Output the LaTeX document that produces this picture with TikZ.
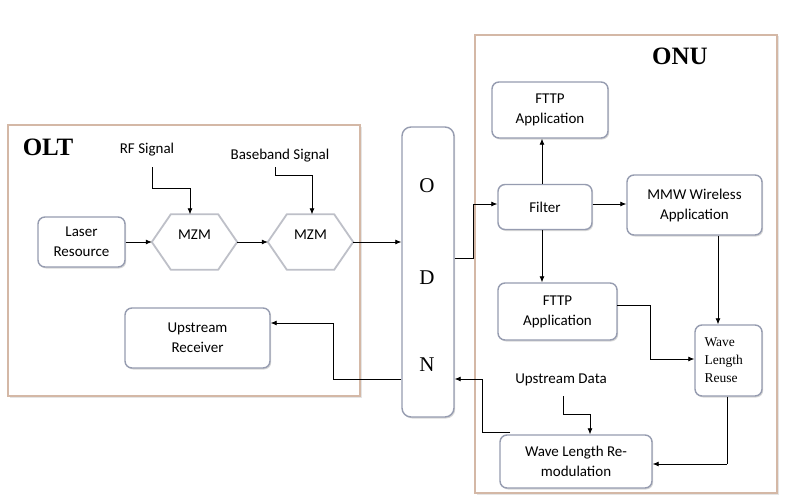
\documentclass[tikz,border=0pt]{standalone}
\usepackage{fontspec}
\setmainfont{Carlito}
\newfontfamily\serifface{Liberation Serif}
\usetikzlibrary{shadows,arrows.meta,calc}
\definecolor{boxline}{RGB}{150,156,176}
\definecolor{frameline}{RGB}{212,184,166}
\definecolor{hexline}{RGB}{190,192,200}
\tikzset{
  box/.style={draw=boxline, line width=1.4pt, rounded corners=7pt, fill=white,
    drop shadow={shadow xshift=1.2pt, shadow yshift=-1.5pt, opacity=0.3},
    align=center, font=\fontsize{15}{20}\selectfont, inner sep=2pt},
  frame/.style={draw=frameline, line width=2.4pt,
    drop shadow={shadow xshift=1.5pt, shadow yshift=-1.5pt, opacity=0.2}, fill=white},
  hexbox/.style={draw=none, minimum width=85pt, minimum height=55pt},
  hexdraw/.style={draw=hexline, line width=1.8pt, fill=white},
  lbl/.style={font=\fontsize{15}{20}\selectfont, inner sep=1pt},
  big/.style={font=\serifface\bfseries\fontsize{25}{28}\selectfont},
  odnl/.style={font=\serifface\fontsize{21}{24}\selectfont},
  arr/.style={-{Latex[length=6pt,width=5pt]}, line width=0.8pt},
  ln/.style={line width=0.8pt}
}
\begin{document}
\begin{tikzpicture}[x=1pt,y=-1pt]
\useasboundingbox[fill=white] (0,0) rectangle (791,500);
% containers
\draw[frame] (8,125) rectangle (360,396);
\draw[frame] (475,35) rectangle (777,493);
\node[big] (olt) at (48,147) {OLT};
\node[big] (onu) at (680,56) {ONU};
% OLT nodes
\node[box, minimum width=87pt, minimum height=50pt] (laser) at (81.5,242) {Laser\\Resource};
\node[hexbox] (mzm1) at (194.5,242) {};
\draw[hexdraw] (mzm1.west) -- ([xshift=19pt]mzm1.north west) -- ([xshift=-19pt]mzm1.north east) -- (mzm1.east) -- ([xshift=-19pt]mzm1.south east) -- ([xshift=19pt]mzm1.south west) -- cycle;
\node[lbl] at (194.5,235) {MZM};
\node[hexbox] (mzm2) at (310.5,242) {};
\draw[hexdraw] (mzm2.west) -- ([xshift=19pt]mzm2.north west) -- ([xshift=-19pt]mzm2.north east) -- (mzm2.east) -- ([xshift=-19pt]mzm2.south east) -- ([xshift=19pt]mzm2.south west) -- cycle;
\node[lbl] at (310.5,235) {MZM};
\node[lbl] (rf) at (147,150) {RF Signal};
\node[lbl] (bb) at (280,156) {Baseband Signal};
\node[box, minimum width=145pt, minimum height=60pt] (recv) at (197.5,338) {Upstream\\Receiver};
% ODN
\node[box, minimum width=52pt, minimum height=290pt, rounded corners=9pt] (odn) at (428,272) {};
\node[odnl] (o) at (427,186) {O};
\node[odnl] (d) at (427,278) {D};
\node[odnl] (n) at (427,365) {N};
% ONU nodes
\node[box, minimum width=116pt, minimum height=56pt] (fttp1) at (550,110) {FTTP\\Application};
\node[box, minimum width=94pt, minimum height=45pt] (filter) at (545,207) {Filter};
\node[box, minimum width=135pt, minimum height=60pt] (mmw) at (694.5,205) {MMW Wireless\\Application};
\node[box, minimum width=119pt, minimum height=57pt] (fttp2) at (557.5,311.5) {FTTP\\Application};
\node[box, minimum width=67pt, minimum height=71pt, align=left, text width=48pt, font=\serifface\fontsize{13.5}{18}\selectfont] (reuse) at (728.5,360.5) {Wave\\Length\\Reuse};
\node[box, minimum width=152pt, minimum height=53pt] (remod) at (576,461.5) {Wave Length Re-\\modulation};
\node[lbl] (upd) at (561,380) {Upstream Data};
% helper coordinates
\coordinate (rfa) at (152,167);
\coordinate (rfb) at (190,188);
\coordinate (bba) at (275,167);
\coordinate (bbb) at (312,175);
\coordinate (rx1) at (333,379);
\coordinate (rx2) at (333,323);
\coordinate (rm1) at (510,432);
\coordinate (rm2) at (482,379);
\coordinate (of1) at (455,258);
\coordinate (of2) at (473,204);
\coordinate (fu) at (542,0);
\coordinate (mr) at (718,0);
\coordinate (fr1) at (617,305);
\coordinate (fr2) at (650,359);
\coordinate (rr1) at (727,0);
\coordinate (rr2) at (727,464);
\coordinate (ud1) at (563,396);
\coordinate (ud2) at (590,414);
% OLT connectors
\draw[arr] (laser.east) -- (mzm1.west);
\draw[arr] (mzm1.east) -- (mzm2.west);
\draw[arr] (mzm2.east) -- (mzm2.east -| odn.west);
\draw[ln] (rfa) |- (rfb);
\draw[arr] (rfb) -- (rfb |- mzm1.north);
\draw[ln] (bba) |- (bbb);
\draw[arr] (bbb) -- (bbb |- mzm2.north);
\draw[ln] (rx1 -| odn.west) -- (rx1) -- (rx2);
\draw[arr] (rx2) -- (rx2 -| recv.east);
% ONU connectors
\draw[ln] (rm1) -| (rm2);
\draw[arr] (rm2) -- (rm2 -| odn.east);
\draw[ln] (of1 -| odn.east) -| (of2);
\draw[arr] (of2) -- (of2 -| filter.west);
\draw[arr] (fu |- filter.north) -- (fu |- fttp1.south);
\draw[arr] (filter.east |- of2) -- (of2 -| mmw.west);
\draw[arr] (fu |- filter.south) -- (fu |- fttp2.north);
\draw[arr] (mr |- mmw.south) -- (mr |- reuse.north);
\draw[ln] (fr1) -| (fr2);
\draw[arr] (fr2) -- (fr2 -| reuse.west);
\draw[ln] (rr1 |- reuse.south) -- (rr2);
\draw[arr] (rr2) -- (rr2 -| remod.east);
\draw[ln] (ud1) |- (ud2);
\draw[arr] (ud2) -- (ud2 |- remod.north);
\end{tikzpicture}
\end{document}
